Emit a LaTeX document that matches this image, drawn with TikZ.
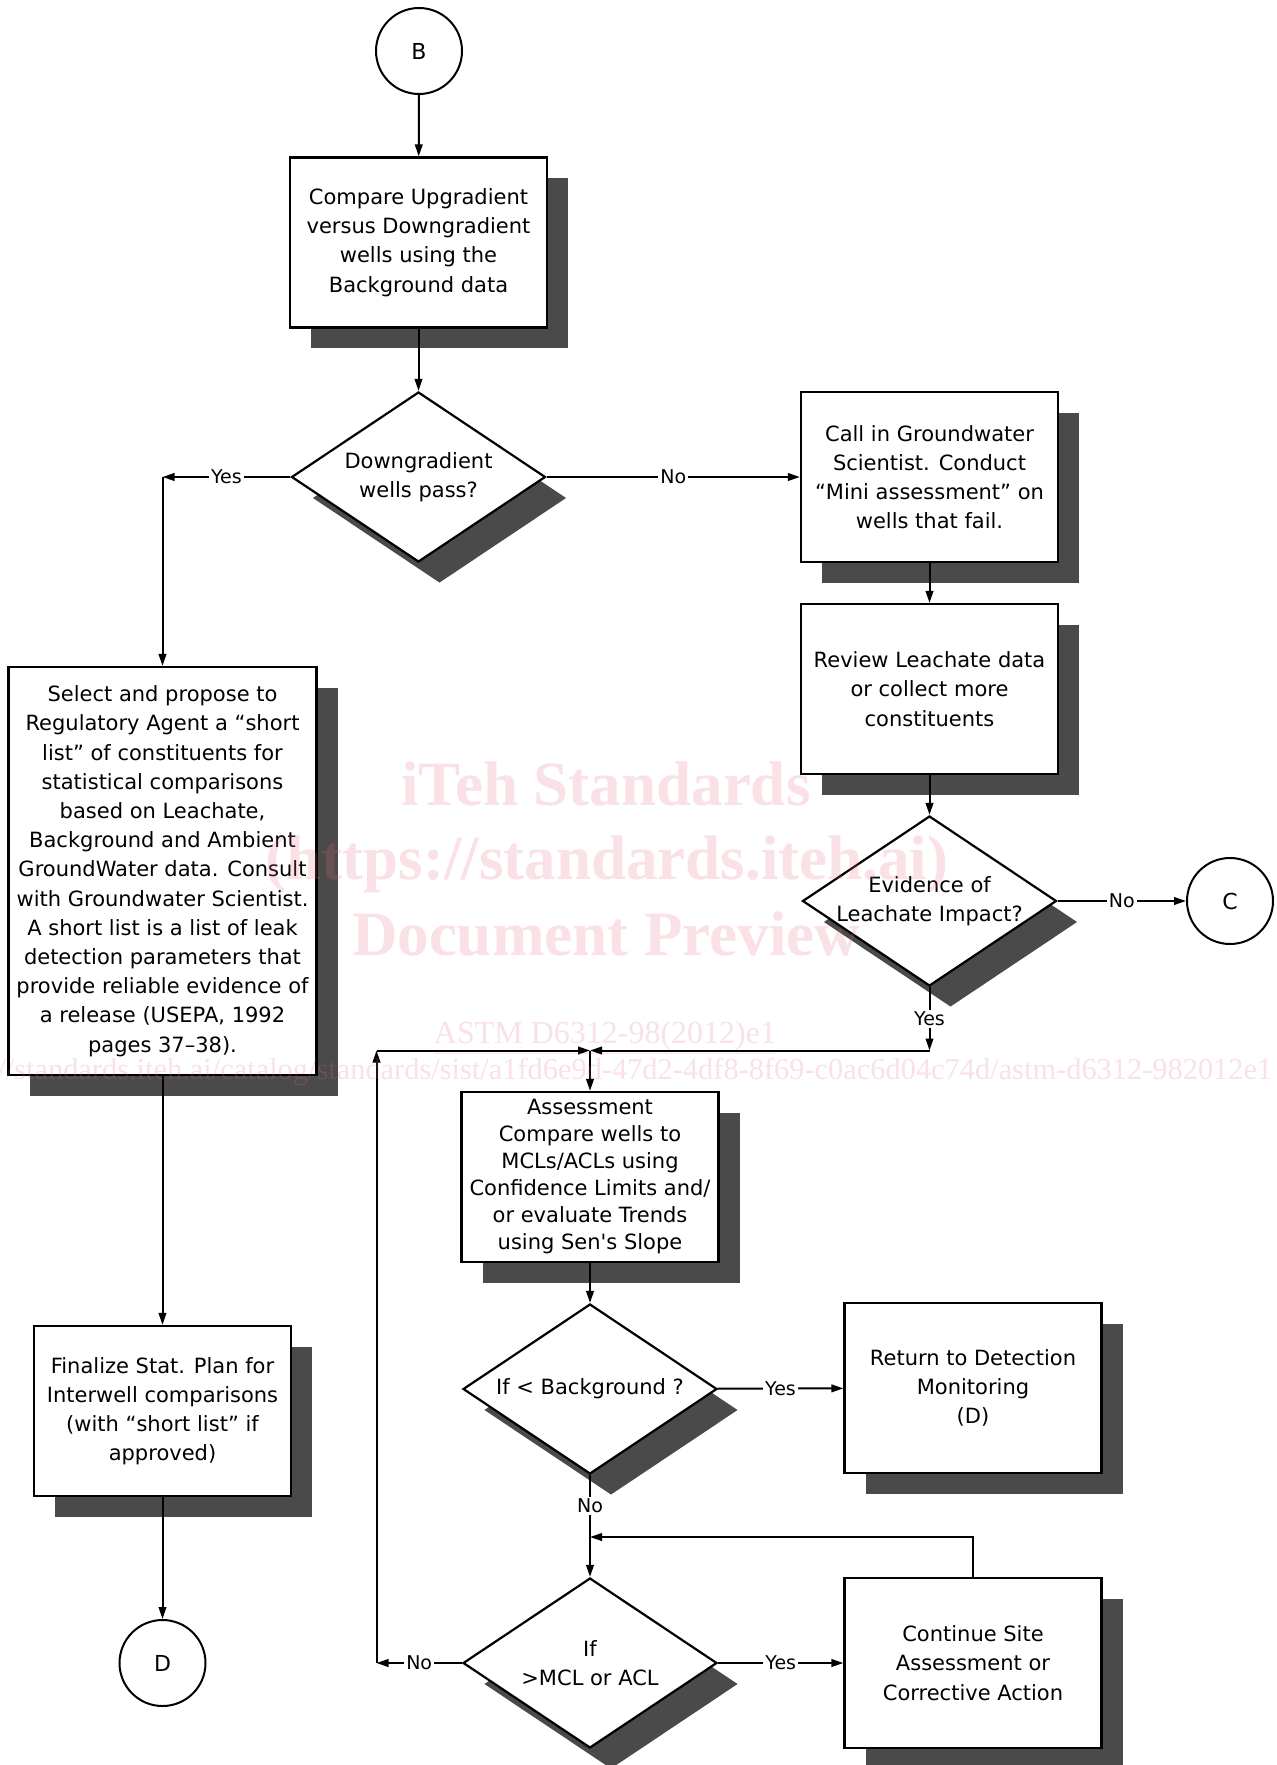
\documentclass[tikz,border=0pt]{standalone}
\usepackage{fontspec}
\setmainfont{DejaVu Sans}
\newfontfamily\wmfont{Liberation Serif}
\usepackage{xcolor}
\usepackage{tikz}
\usetikzlibrary{arrows.meta, shapes.geometric, shadows, positioning}

\definecolor{shadowgray}{RGB}{74,74,74}
\definecolor{wmpink}{RGB}{226,105,130}

\begin{document}
\begin{tikzpicture}[
    % GLOBAL CFG
    x=0.5pt, y=-0.5pt,
    font=\fontsize{10.5}{14.6}\selectfont,
    >={Triangle[length=6pt, width=3.8pt]},
    % Styles
    stepbox/.style={% For the process boxes
        rectangle,
        draw,
        line width=1.1pt,
        fill=white,
        align=center,
        inner sep=2pt,
        minimum width=128.5pt,
        minimum height=85pt,
        drop shadow={shadow xshift=10.5pt, shadow yshift=-10.5pt, fill=shadowgray, opacity=1},
        },
    decision/.style={% For the questions
        diamond,
        draw,
        line width=1.1pt,
        fill=white,
        align=center,
        aspect=1.5,
        inner xsep=-15pt,
        inner ysep=0pt,
        minimum width=127pt,
        minimum height=85pt,
        drop shadow={shadow xshift=10.5pt, shadow yshift=-10.5pt, fill=shadowgray, opacity=1},
        },
    connector/.style={% For page connectors
        circle,
        draw,
        line width=1pt,
        minimum size=43pt,
        inner sep=0pt,
        font=\fontsize{11}{13}\selectfont,
        },
    answer/.style={% Yes / No on the lines
        fill=white,
        inner sep=1pt,
        font=\fontsize{9.5}{11}\selectfont,
        },
    watermark/.style={% the pink overlay
        text=wmpink,
        text opacity=0.2,
        inner sep=0pt,
        },
    ArrowC1/.style={% plain connecting lines
        line width=1pt,
        },
    ]

    \useasboundingbox[fill=white] (0,0) rectangle (1276,1765);

    % Main column
    \node [connector] (B) at (419,51) {B};
    \node [stepbox] (compare) at (418.5,242.5) {Compare Upgradient\\versus Downgradient\\wells using the\\Background data};
    \node [decision] (pass) at (418.5,477) {Downgradient\\wells pass?};

    % Right column (wells fail)
    \node [stepbox] (call) at (929.5,477) {Call in Groundwater\\Scientist. Conduct\\“Mini assessment” on\\wells that fail.};
    \node [stepbox] (review) at (929.5,689) {Review Leachate data\\or collect more\\constituents};
    \node [decision] (impact) at (929.5,901) {\raisebox{7pt}{\begin{tabular}{@{}c@{}}Evidence of\\Leachate Impact?\end{tabular}}};
    \node [connector] (C) at (1230,901) {C};

    % Left column (wells pass)
    \node [stepbox, minimum width=154pt, minimum height=204pt] (select) at (162.5,871) {Select and propose to\\Regulatory Agent a “short\\list” of constituents for\\statistical comparisons\\based on Leachate,\\Background and Ambient\\GroundWater data. Consult\\with Groundwater Scientist.\\A short list is a list of leak\\detection parameters that\\provide reliable evidence of\\a release (USEPA, 1992\\pages 37--38).};
    \node [stepbox] (final) at (162.5,1411) {Finalize Stat. Plan for\\Interwell comparisons\\(with “short list” if\\approved)};
    \node [connector] (D) at (162.5,1663) {D};

    % Assessment loop
    \node [stepbox, font=\fontsize{10.5}{13.5}\selectfont] (assess) at (590,1177) {Assessment\\Compare wells to\\MCLs/ACLs using\\Confidence Limits and/\\or evaluate Trends\\using Sen\textquotesingle s Slope};
    \node [decision] (below) at (590,1389) {If < Background ?};
    \node [stepbox] (return) at (973,1388) {Return to Detection\\Monitoring\\(D)};
    \node [decision] (exceed) at (590,1663) {If\\>MCL or ACL};
    \node [stepbox] (continue) at (973,1663) {Continue Site\\Assessment or\\Corrective Action};

    % Corners of the lines
    \coordinate (yesL) at (pass -| select);
    \coordinate (join) at (590,1050.5);
    \coordinate (yesC) at (impact |- join);
    \coordinate (noL) at (376.5,1663);
    \coordinate (noT) at (noL |- join);
    \coordinate (loop) at (590,1537);

    % Drawing arrows
    \draw [->, ArrowC1] (B) -- (compare);
    \draw [->, ArrowC1] (compare) -- (pass);
    \draw [->, ArrowC1] (pass) -- (yesL) node[answer, midway] {Yes};
    \draw [->, ArrowC1] (yesL) -- (select);
    \draw [->, ArrowC1] (pass) -- (call) node[answer, midway] {No};
    \draw [->, ArrowC1] (call) -- (review);
    \draw [->, ArrowC1] (review) -- (impact);
    \draw [->, ArrowC1] (impact) -- (C) node[answer, midway] {No};
    \draw [->, ArrowC1] (select) -- (final);
    \draw [->, ArrowC1] (final) -- (D);

    \draw [->, ArrowC1] (impact) -- (yesC) node[answer, midway] {Yes};
    \draw [->, ArrowC1] (yesC) -- (join);
    \draw [->, ArrowC1] (join) -- (assess);
    \draw [->, ArrowC1] (assess) -- (below);
    \draw [->, ArrowC1] (below) -- (return) node[answer, midway] {Yes};
    \draw [ArrowC1] (below) -- (loop) node[answer, midway] {No};
    \draw [->, ArrowC1] (loop) -- (exceed);
    \draw [->, ArrowC1] (exceed) -- (continue) node[answer, midway] {Yes};
    \draw [->, ArrowC1] (continue) |- (loop);
    \draw [->, ArrowC1] (exceed) -- (noL) node[answer, midway] {No};
    \draw [->, ArrowC1] (noL) -- (noT);
    \draw [->, ArrowC1] (noT) -- (join);

    % Watermark
    \node [watermark, font=\wmfont\bfseries\fontsize{31.5}{34}\selectfont] (wm1) at (606,784) {iTeh Standards};
    \node [watermark, font=\wmfont\bfseries\fontsize{31.5}{34}\selectfont] (wm2) at (607,864) {(https://standards.iteh.ai)};
    \node [watermark, font=\wmfont\bfseries\fontsize{31.5}{34}\selectfont] (wm3) at (606,934) {Document Preview};
    \node [watermark, font=\wmfont\fontsize{16}{18}\selectfont] (wm4) at (605,1038) {\underline{ASTM D6312-98(2012)e1}};
    \node [watermark, font=\wmfont\fontsize{15.2}{18}\selectfont] (wm5) at (601,1072) {https://standards.iteh.ai/catalog/standards/sist/a1fd6e9d-47d2-4df8-8f69-c0ac6d04c74d/astm-d6312-982012e1};

\end{tikzpicture}
\end{document}
